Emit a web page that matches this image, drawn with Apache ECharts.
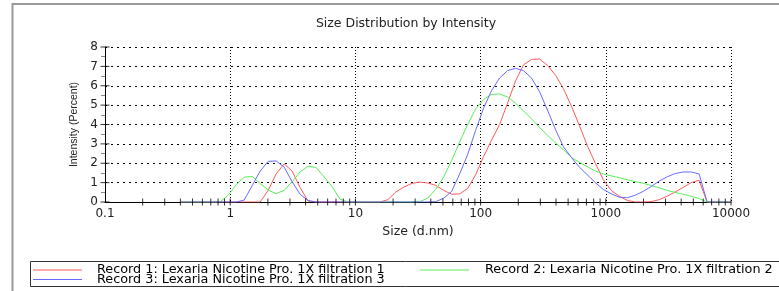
<!DOCTYPE html>
<html><head><meta charset="utf-8">
<script src="https://cdn.jsdelivr.net/npm/echarts@6/dist/echarts.min.js"></script>
<style>html,body{margin:0;padding:0;background:#fff}#c{width:779px;height:291px}</style>
</head><body><div id="c"></div>
<script>
var sizes = [0.4,0.4632,0.5365,0.6213,0.7195,0.8332,0.9649,1.117,1.294,1.499,1.736,2.010,2.328,2.696,3.122,3.615,4.187,4.849,5.615,6.503,7.531,8.721,10.10,11.70,13.54,15.69,18.17,21.04,24.36,28.21,32.67,37.84,43.82,50.75,58.77,68.06,78.82,91.28,105.7,122.4,141.8,164.2,190.1,220.2,255.0,295.3,342.0,396.1,458.7,531.2,615.1,712.4,825.0,955.4,1106,1281,1484,1718,1990,2305,2669,3091,3580,4145,4801,5560,6439,7456,8635,10000];
var record1 = [0,0,0,0,0,0,0,0,0,0, 0,0.6,1.45,1.97,1.6,0.75,0.05,0,0,0, 0,0,0,0,0,0,0.12,0.52,0.77,0.96, 1.03,0.98,0.86,0.6,0.4,0.42,0.7,1.4,2.35,3.2, 4.0,5.1,6.25,7.08,7.36,7.38,7.05,6.55,5.85,4.95, 3.95,2.9,2.0,1.15,0.6,0.3,0.08,0,0,0.02, 0.12,0.3,0.52,0.75,1.0,1.12,0,0,0,0];
var record2 = [0,0,0,0,0,0.02,0.35,0.9,1.28,1.32, 0.95,0.62,0.43,0.6,1.05,1.55,1.85,1.78,1.3,0.8, 0.15,0,0,0,0,0,0,0,0,0, 0.02,0.2,0.65,1.3,2.15,3.1,4.0,4.8,5.3,5.55, 5.58,5.42,5.1,4.7,4.3,3.85,3.45,3.05,2.7,2.3, 2.05,1.82,1.6,1.45,1.35,1.25,1.15,1.05,0.97,0.85, 0.73,0.6,0.5,0.4,0.3,0.18,0,0,0,0];
var record3 = [0,0,0,0,0,0,0,0,0.1,0.85, 1.6,2.1,2.12,1.8,1.05,0.4,0.08,0,0,0, 0,0,0,0,0,0,0,0,0,0, 0,0,0.02,0.2,0.55,1.45,2.45,3.7,4.85,5.75, 6.4,6.78,6.9,6.78,6.4,5.7,4.75,3.75,2.85,2.3, 1.8,1.4,1.0,0.65,0.42,0.25,0.22,0.35,0.55,0.8, 1.08,1.3,1.47,1.55,1.55,1.45,0,0,0,0];
var names = ['Record 1: Lexaria Nicotine Pro. 1X filtration 1','Record 2: Lexaria Nicotine Pro. 1X filtration 2','Record 3: Lexaria Nicotine Pro. 1X filtration 3'];
var xTickLabels = ['0.1','1','10','100','1000','10000'];
var xTicks = [0.2,0.3,0.4,0.5,0.6,0.7,0.8,0.9,1,2,3,4,5,6,7,8,9,10,20,30,40,50,60,70,80,90,100,200,300,400,500,600,700,800,900,1000,2000,3000,4000,5000,6000,7000,8000,9000,10000];
var yTicks = [0,1,2,3,4,5,6,7,8];

function pairs(v){return sizes.map(function(s,i){return [s,v[i]];});}
var font = 'DejaVu Sans, Verdana, sans-serif';
var narrow = 'Liberation Sans, Arial, sans-serif';
var chart = echarts.init(document.getElementById('c'));
function lineSeries(name, data, color){
  return {name:name,type:'line',data:pairs(data),showSymbol:false,symbol:'none',smooth:false,
    lineStyle:{color:color,width:1},itemStyle:{color:color},z:3,animation:false};
}
function legendItem(name, left, top, pad){
  return {data:[name],orient:'horizontal',left:left,top:top,icon:'rect',itemWidth:49,itemHeight:1,
    padding:0,textStyle:{fontFamily:font,fontSize:12.8,color:'#000',lineHeight:10,padding:[0,0,0,pad]}};
}
chart.setOption({
  animation:false,
  title:{text:'Size Distribution by Intensity',left:401,textAlign:'center',top:12,
    textStyle:{fontFamily:font,fontSize:12.5,fontWeight:'normal',color:'#222'}},
  grid:{left:105,right:48,top:47,bottom:89},
  xAxis:{type:'log',logBase:10,min:0.1,max:10000,
    name:'Size (d.nm)',nameLocation:'middle',nameGap:23,
    nameTextStyle:{fontFamily:font,fontSize:12.5,color:'#222'},
    axisLine:{lineStyle:{color:'#000',width:1}},
    axisTick:{show:false},
    axisLabel:{fontFamily:font,fontSize:12,color:'#222',margin:6,
      formatter:function(v){var i=Math.round(Math.log10(v))+1;return xTickLabels[i];}},
    splitLine:{show:true,lineStyle:{color:'#000',type:[1,2],width:1}}
  },
  yAxis:{type:'value',min:0,max:8,interval:1,
    name:'Intensity (Percent)',nameLocation:'middle',nameGap:24,
    nameTextStyle:{fontFamily:narrow,fontSize:10.5,color:'#222'},
    axisLine:{show:true,lineStyle:{color:'#000',width:1}},
    axisTick:{show:false},
    minorTick:{show:true,splitNumber:2,length:4,lineStyle:{color:'#888'}},
    axisLabel:{fontFamily:font,fontSize:12,color:'#222',margin:7},
    splitLine:{show:true,lineStyle:{color:'#000',type:[2,4],width:1}}
  },
  legend:[
    legendItem(names[0],33,263.5,10),
    legendItem(names[2],33,273,10),
    legendItem(names[1],420,263.5,11)
  ],
  graphic:[
    {type:'rect',shape:{x:12.5,y:4,width:800,height:300},style:{fill:'none',stroke:'#999',lineWidth:2},silent:true,z:-10},
    {type:'rect',shape:{x:30.5,y:261.5,width:800,height:25},style:{fill:'none',stroke:'#333',lineWidth:1},silent:true}
  ],
  series:[
    lineSeries(names[0],record1,'#ff5a5a'),
    lineSeries(names[1],record2,'#5aee5a'),
    lineSeries(names[2],record3,'#6a6aff'),
    {type:'scatter',silent:true,clip:false,symbol:'rect',symbolSize:[1,7],
      data:xTicks.map(function(v){return [v,0];}),itemStyle:{color:'#000'},z:4,animation:false},
    {type:'scatter',silent:true,clip:false,symbol:'rect',symbolSize:[9,1],
      data:yTicks.map(function(v){return [0.1,v];}),itemStyle:{color:'#000'},z:4,animation:false}
  ]
});
</script></body></html>
